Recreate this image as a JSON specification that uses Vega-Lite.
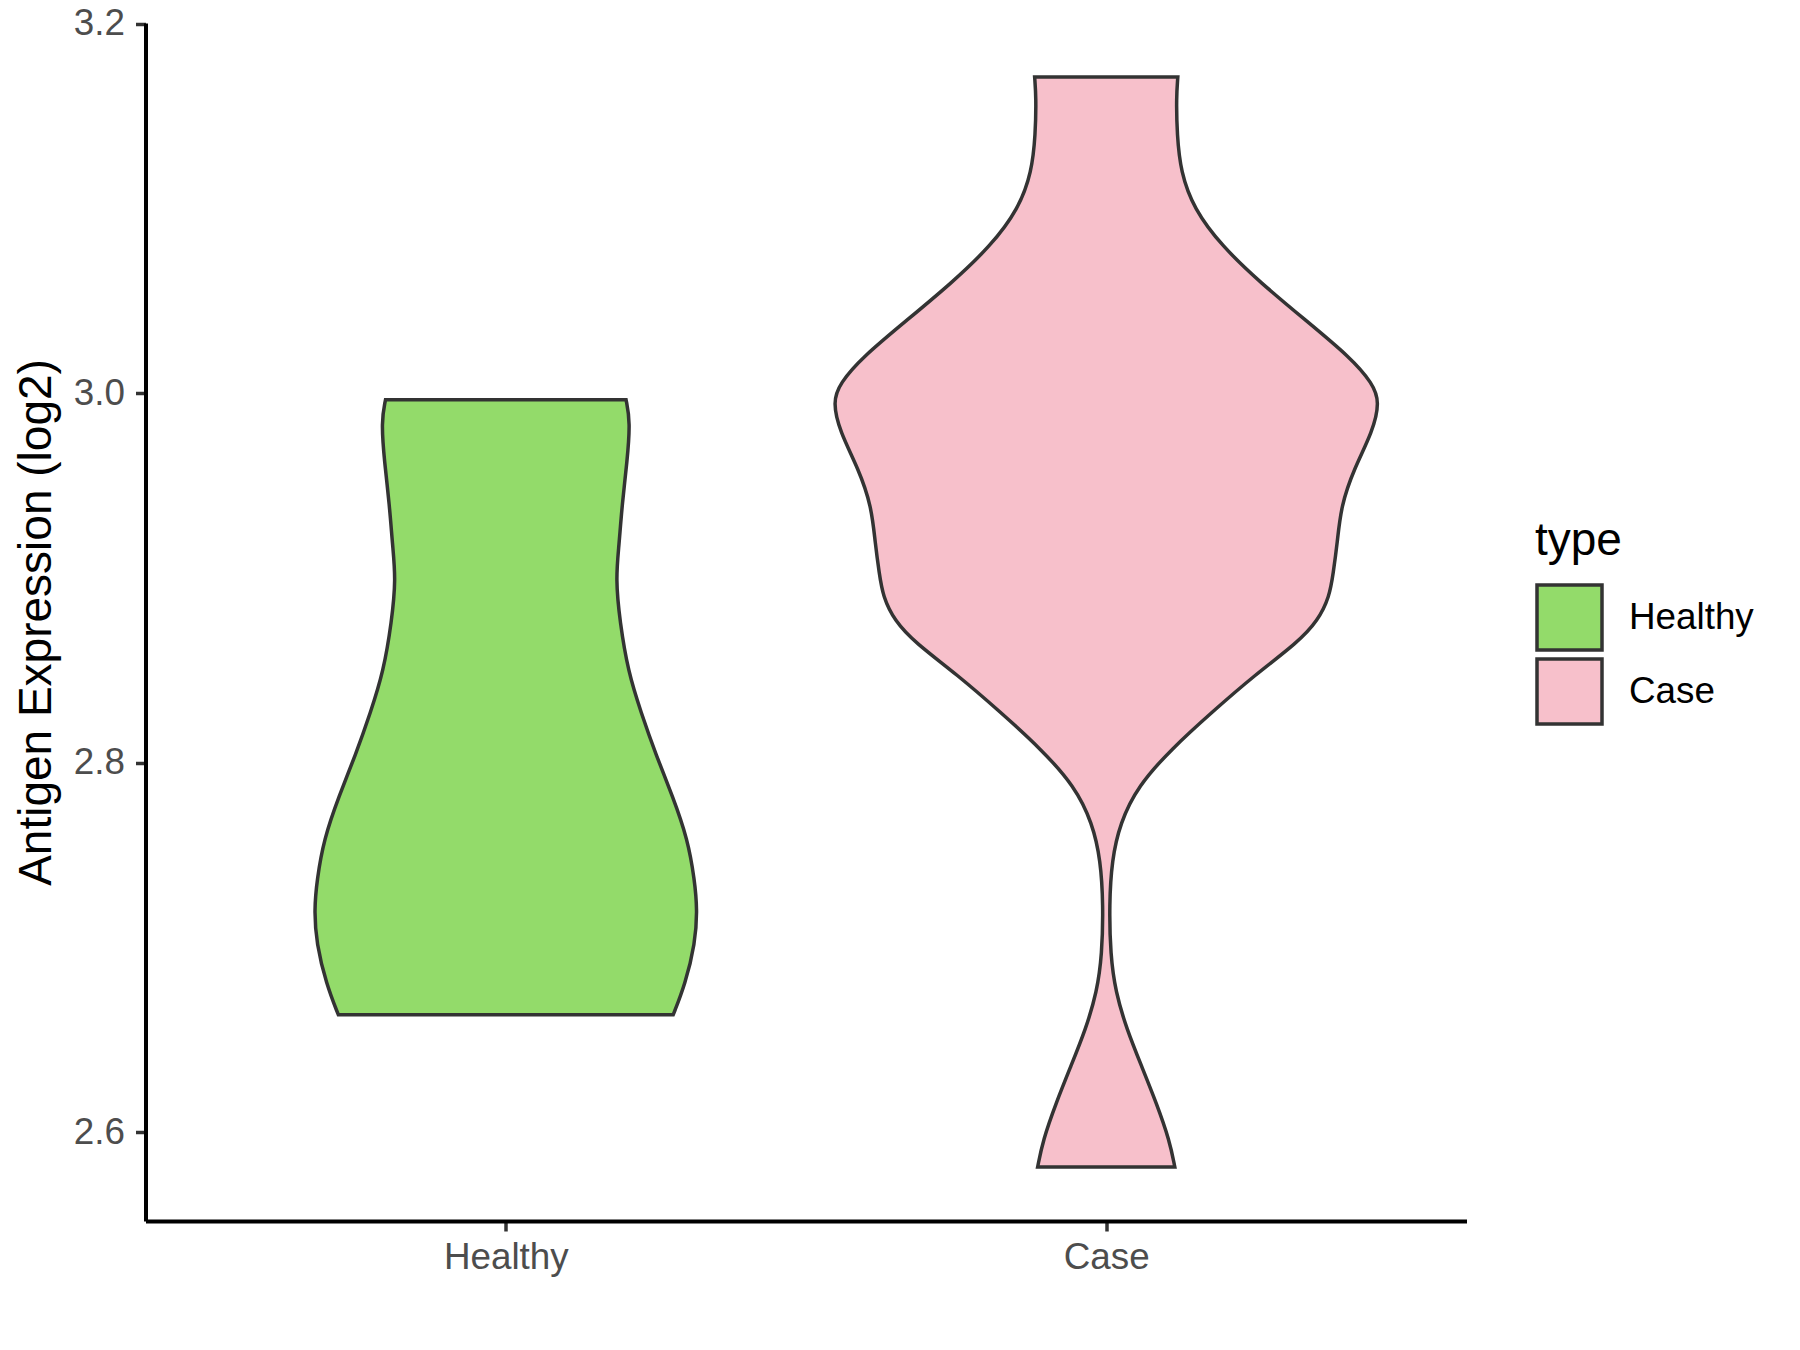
{
  "$schema": "https://vega.github.io/schema/vega-lite/v6.json",
  "width": 1321,
  "height": 1198,
  "autosize": {"type": "none"},
  "padding": {"left": 145.5, "top": 23, "right": 333.5, "bottom": 129},
  "background": "white",
  "config": {
    "view": {"stroke": null},
    "font": "Liberation Sans",
    "axis": {
      "grid": false,
      "domainColor": "black",
      "domainWidth": 4,
      "tickColor": "#333333",
      "tickWidth": 3.5,
      "tickSize": 10,
      "labelFontSize": 36.8,
      "labelColor": "#4D4D4D",
      "labelFont": "Liberation Sans",
      "titleFont": "Liberation Sans",
      "titleFontSize": 46,
      "titleFontWeight": "normal",
      "titleColor": "black"
    },
    "legend": {
      "titleFont": "Liberation Sans",
      "labelFont": "Liberation Sans"
    }
  },
  "data": {
    "values": [
      {"type": "Healthy", "value": 2.6635, "lo": 0.7212, "hi": 1.2788},
      {"type": "Healthy", "value": 2.6801, "lo": 0.7012, "hi": 1.2988},
      {"type": "Healthy", "value": 2.7023, "lo": 0.6845, "hi": 1.3155},
      {"type": "Healthy", "value": 2.7204, "lo": 0.6810, "hi": 1.3190},
      {"type": "Healthy", "value": 2.7365, "lo": 0.6855, "hi": 1.3145},
      {"type": "Healthy", "value": 2.7586, "lo": 0.6970, "hi": 1.3030},
      {"type": "Healthy", "value": 2.7818, "lo": 0.7220, "hi": 1.2780},
      {"type": "Healthy", "value": 2.8040, "lo": 0.7496, "hi": 1.2504},
      {"type": "Healthy", "value": 2.8271, "lo": 0.7746, "hi": 1.2254},
      {"type": "Healthy", "value": 2.8493, "lo": 0.7963, "hi": 1.2037},
      {"type": "Healthy", "value": 2.8764, "lo": 0.8100, "hi": 1.1900},
      {"type": "Healthy", "value": 2.8995, "lo": 0.8170, "hi": 1.1830},
      {"type": "Healthy", "value": 2.9176, "lo": 0.8114, "hi": 1.1886},
      {"type": "Healthy", "value": 2.9398, "lo": 0.8063, "hi": 1.1937},
      {"type": "Healthy", "value": 2.9627, "lo": 0.7980, "hi": 1.2020},
      {"type": "Healthy", "value": 2.9847, "lo": 0.7925, "hi": 1.2075},
      {"type": "Healthy", "value": 2.9965, "lo": 0.7997, "hi": 1.2003},
      {"type": "Case", "value": 2.5812, "lo": 1.8858, "hi": 2.1142},
      {"type": "Case", "value": 2.5955, "lo": 1.8945, "hi": 2.1055},
      {"type": "Case", "value": 2.6156, "lo": 1.9162, "hi": 2.0838},
      {"type": "Case", "value": 2.6357, "lo": 1.9411, "hi": 2.0589},
      {"type": "Case", "value": 2.6558, "lo": 1.9659, "hi": 2.0341},
      {"type": "Case", "value": 2.6759, "lo": 1.9845, "hi": 2.0155},
      {"type": "Case", "value": 2.6960, "lo": 1.9930, "hi": 2.0070},
      {"type": "Case", "value": 2.7231, "lo": 1.9950, "hi": 2.0050},
      {"type": "Case", "value": 2.7472, "lo": 1.9907, "hi": 2.0093},
      {"type": "Case", "value": 2.7673, "lo": 1.9770, "hi": 2.0230},
      {"type": "Case", "value": 2.7874, "lo": 1.9472, "hi": 2.0528},
      {"type": "Case", "value": 2.8075, "lo": 1.8913, "hi": 2.1087},
      {"type": "Case", "value": 2.8276, "lo": 1.8232, "hi": 2.1768},
      {"type": "Case", "value": 2.8477, "lo": 1.7518, "hi": 2.2482},
      {"type": "Case", "value": 2.8650, "lo": 1.6817, "hi": 2.3183},
      {"type": "Case", "value": 2.8770, "lo": 1.6473, "hi": 2.3527},
      {"type": "Case", "value": 2.8900, "lo": 1.6282, "hi": 2.3718},
      {"type": "Case", "value": 2.9025, "lo": 1.6220, "hi": 2.3780},
      {"type": "Case", "value": 2.9190, "lo": 1.6152, "hi": 2.3848},
      {"type": "Case", "value": 2.9391, "lo": 1.6090, "hi": 2.3910},
      {"type": "Case", "value": 2.9592, "lo": 1.5873, "hi": 2.4127},
      {"type": "Case", "value": 2.9793, "lo": 1.5563, "hi": 2.4437},
      {"type": "Case", "value": 2.9954, "lo": 1.5445, "hi": 2.4555},
      {"type": "Case", "value": 3.0054, "lo": 1.5563, "hi": 2.4437},
      {"type": "Case", "value": 3.0195, "lo": 1.5935, "hi": 2.4065},
      {"type": "Case", "value": 3.0396, "lo": 1.6680, "hi": 2.3320},
      {"type": "Case", "value": 3.0597, "lo": 1.7424, "hi": 2.2576},
      {"type": "Case", "value": 3.0798, "lo": 1.8077, "hi": 2.1923},
      {"type": "Case", "value": 3.0999, "lo": 1.8541, "hi": 2.1459},
      {"type": "Case", "value": 3.1199, "lo": 1.8760, "hi": 2.1240},
      {"type": "Case", "value": 3.1400, "lo": 1.8821, "hi": 2.1179},
      {"type": "Case", "value": 3.1601, "lo": 1.8833, "hi": 2.1167},
      {"type": "Case", "value": 3.1712, "lo": 1.8808, "hi": 2.1192}
    ]
  },
  "mark": {
    "type": "area",
    "orient": "horizontal",
    "interpolate": "basis",
    "stroke": "#333333",
    "strokeWidth": 3.5,
    "fillOpacity": 1
  },
  "encoding": {
    "y": {
      "field": "value",
      "type": "quantitative",
      "scale": {"domain": [2.5519, 3.2005], "nice": false, "zero": false},
      "axis": {
        "title": "Antigen Expression (log2)",
        "values": [2.6, 2.8, 3.0, 3.2],
        "format": ".1f",
        "labelPadding": 11,
        "titlePadding": 13
      }
    },
    "x": {
      "field": "lo",
      "type": "quantitative",
      "scale": {"domain": [0.4, 2.6], "nice": false, "zero": false},
      "axis": {
        "title": null,
        "values": [1, 2],
        "labelExpr": "datum.value == 1 ? 'Healthy' : 'Case'",
        "labelPadding": 8
      }
    },
    "x2": {"field": "hi"},
    "color": {
      "field": "type",
      "type": "nominal",
      "scale": {"domain": ["Healthy", "Case"], "range": ["#93DB6A", "#F7C0CB"]},
      "legend": {
        "title": "type",
        "orient": "none",
        "legendX": 1389.5,
        "legendY": 496,
        "padding": 0,
        "titleFontSize": 46,
        "titleFontWeight": "normal",
        "titleColor": "black",
        "titlePadding": 18,
        "labelFontSize": 36.8,
        "labelColor": "black",
        "labelOffset": 25,
        "symbolType": "square",
        "symbolSize": 4225,
        "symbolStrokeColor": "#333333",
        "symbolStrokeWidth": 3.5,
        "symbolOpacity": 1,
        "rowPadding": -8
      }
    }
  }
}
